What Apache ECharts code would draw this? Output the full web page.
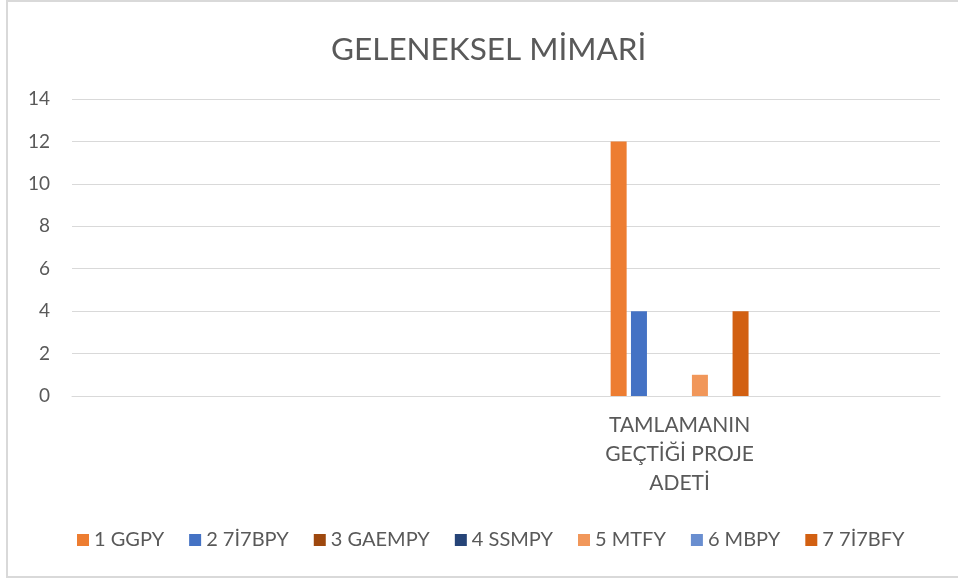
<!DOCTYPE html>
<html>
<head>
<meta charset="utf-8">
<script src="https://cdn.jsdelivr.net/npm/echarts@6/dist/echarts.min.js"></script>
<style>html,body{margin:0;padding:0;background:#fff;}#c{width:958px;height:581px;}</style>
</head>
<body>
<div id="c"></div>
<script>
var title = 'GELENEKSEL MİMARİ';
var categories = ['', ' ', '  ', 'TAMLAMANIN\nGEÇTİĞİ PROJE\nADETİ', '   '];
var seriesNames = ['1 GGPY', '2 7İ7BPY', '3 GAEMPY', '4 SSMPY', '5 MTFY', '6 MBPY', '7 7İ7BFY'];
var seriesColors = ['#ED7D31', '#4472C4', '#9E480E', '#264478', '#F1975A', '#698ED0', '#D26012'];
var s1 = [0, 0, 0, 12, 0];
var s2 = [0, 0, 0, 4, 0];
var s3 = [0, 0, 0, 0, 0];
var s4 = [0, 0, 0, 0, 0];
var s5 = [0, 0, 0, 1, 0];
var s6 = [0, 0, 0, 0, 0];
var s7 = [0, 0, 0, 4, 0];
var yTicks = { min: 0, max: 14, interval: 2 };

var values = [s1, s2, s3, s4, s5, s6, s7];
var font = 'Lato, "Open Sans", sans-serif';
var chart = echarts.init(document.getElementById('c'), null, { renderer: 'canvas' });
chart.setOption({
  animation: false,
  color: seriesColors,
  textStyle: { fontFamily: font },
  title: {
    text: title, left: 326, top: 29,
    textStyle: { fontFamily: font, fontWeight: 400, fontSize: 31.5, color: '#595959' }
  },
  graphic: [{
    type: 'rect', shape: { x: 7, y: 1, width: 960, height: 576 },
    style: { fill: 'none', stroke: '#d9d9d9', lineWidth: 2 }, silent: true, z: -1
  }],
  legend: {
    bottom: 26, left: 72, itemWidth: 12, itemHeight: 12, itemGap: 25,
    icon: 'rect',
    textStyle: { fontFamily: font, fontSize: 20, color: '#595959' },
    data: seriesNames
  },
  grid: { left: 72, right: 18, top: 99, bottom: 185 },
  xAxis: {
    type: 'category', data: categories,
    axisLine: { lineStyle: { color: '#d9d9d9', width: 1 } },
    axisTick: { show: false },
    axisLabel: {
      interval: 0, margin: 15, fontFamily: font, fontSize: 21, color: '#595959',
      lineHeight: 29, align: 'center'
    }
  },
  yAxis: {
    type: 'value', min: yTicks.min, max: yTicks.max, interval: yTicks.interval,
    axisLine: { show: false }, axisTick: { show: false },
    axisLabel: { margin: 22, fontFamily: font, fontSize: 19, color: '#595959' },
    splitLine: { lineStyle: { color: '#d9d9d9', width: 1 } }
  },
  series: seriesNames.map(function (n, i) {
    return { name: n, type: 'bar', data: values[i], barWidth: 16, barGap: '27%',
      itemStyle: { color: seriesColors[i] } };
  })
});
</script>
</body>
</html>
